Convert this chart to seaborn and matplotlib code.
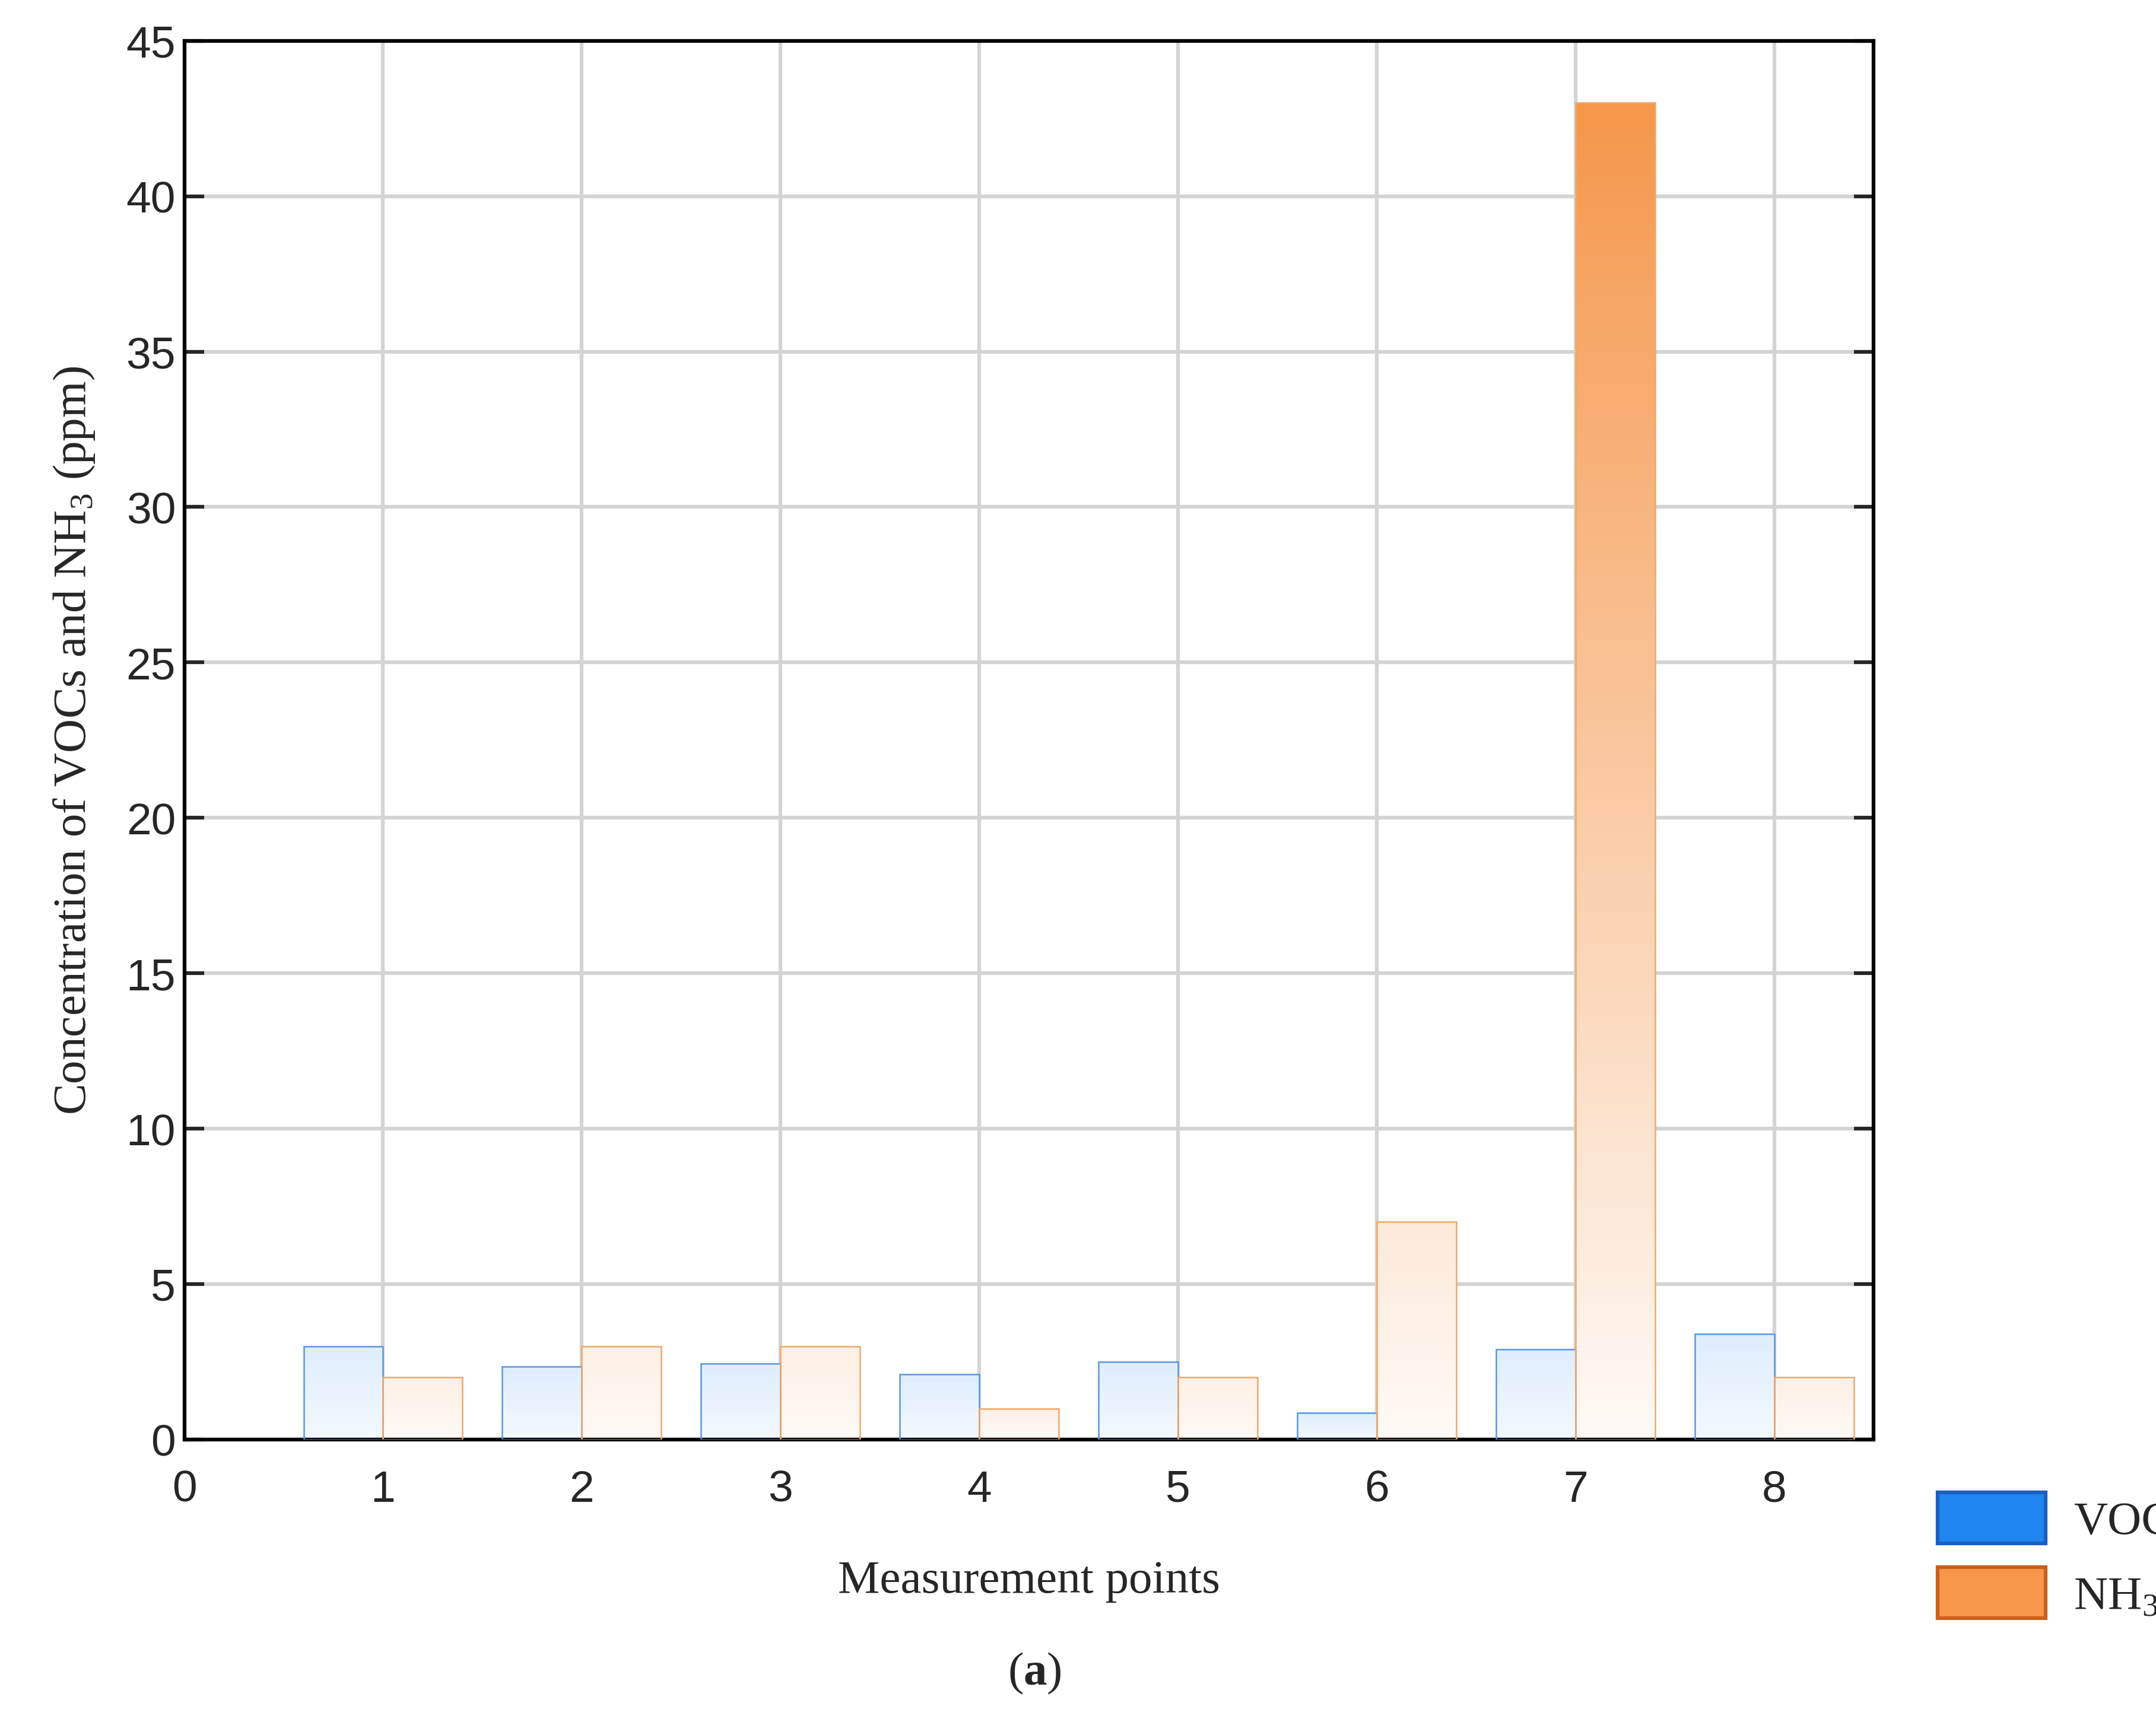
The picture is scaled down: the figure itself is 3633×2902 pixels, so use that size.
import numpy as np
import pandas as pd
import matplotlib
matplotlib.use("Agg")
import matplotlib.pyplot as plt
import seaborn as sns
from matplotlib.colors import LinearSegmentedColormap
from matplotlib.patches import Patch

points = [1, 2, 3, 4, 5, 6, 7, 8]
vocs = [3.0, 2.35, 2.45, 2.1, 2.5, 0.85, 2.9, 3.4]
nh3 = [2.0, 3.0, 3.0, 1.0, 2.0, 7.0, 43.0, 2.0]
series = ["VOCs", "NH$_3$"]

df = pd.DataFrame({
    "point": points * 2,
    "value": vocs + nh3,
    "series": [series[0]] * 8 + [series[1]] * 8,
})

sns.set_style("white")
plt.rcParams["mathtext.fontset"] = "custom"
plt.rcParams["mathtext.rm"] = "Liberation Serif"
plt.rcParams["mathtext.bf"] = "Liberation Serif:bold"
fig = plt.figure(figsize=(3633 / 300, 2903 / 300), dpi=300)
ax = fig.add_axes([0.0855, 0.164, 0.7835, 0.812])

sns.barplot(data=df, x="point", y="value", hue="series", native_scale=True,
            width=0.8, ax=ax, legend=False, zorder=3)

full = {series[0]: "#1f86f0", series[1]: "#f5964a"}
edge = {series[0]: "#5a96e0", series[1]: "#f0a868"}
ymax = 45
for cont, name in zip(ax.containers, series):
    cmap = LinearSegmentedColormap.from_list(name, ["#ffffff", full[name]])
    for p in cont.patches:
        x0, y0 = p.get_x(), p.get_y()
        w, h = p.get_width(), p.get_height()
        p.set_facecolor("none")
        p.set_edgecolor(edge[name])
        p.set_linewidth(0.6)
        top = h / ymax
        g = np.linspace(0.05, max(top, 0.1) * 0.98 + 0.05, 256).reshape(-1, 1)
        im = ax.imshow(g, cmap=cmap, vmin=0, vmax=1, origin="lower", aspect="auto",
                       extent=[x0, x0 + w, y0, y0 + h], zorder=2)
        im.set_clip_path(p)

ax.set_xlim(0, 8.5)
ax.set_ylim(0, 45)
ax.set_xticks(range(0, 9))
ax.set_yticks(range(0, 46, 5))
ax.grid(True, color="#d4d4d4", linewidth=1.5, zorder=0)
ax.set_axisbelow(True)
for s in ax.spines.values():
    s.set_color("black")
    s.set_linewidth(1.5)
ax.tick_params(axis="both", direction="in", length=8, width=1.5, right=True,
               left=True, bottom=False, labelsize=18, labelright=False)
for lab in ax.get_xticklabels() + ax.get_yticklabels():
    lab.set_family("Liberation Sans")
ax.tick_params(axis="x", pad=12)

ax.set_xlabel("Measurement points", family="Liberation Serif", fontsize=19, labelpad=20)
ax.set_ylabel("Concentration of VOCs and NH$_3$ (ppm)", family="Liberation Serif",
              fontsize=19, labelpad=12)

handles = [Patch(facecolor="#1f86f0", edgecolor="#1a5fc0", linewidth=1.5),
           Patch(facecolor="#f5964a", edgecolor="#c86020", linewidth=1.5)]
fig.legend(handles, series, loc="upper left", bbox_to_anchor=(0.879, 0.158),
           frameon=False, prop={"family": "Liberation Serif", "size": 19},
           handlelength=2.3, handleheight=1.3, handletextpad=0.6, labelspacing=0.5)

fig.text(0.48, 0.022, r"($\mathbf{a}$)", ha="center", family="Liberation Serif", fontsize=19)
fig.savefig("out.png", dpi=300)
